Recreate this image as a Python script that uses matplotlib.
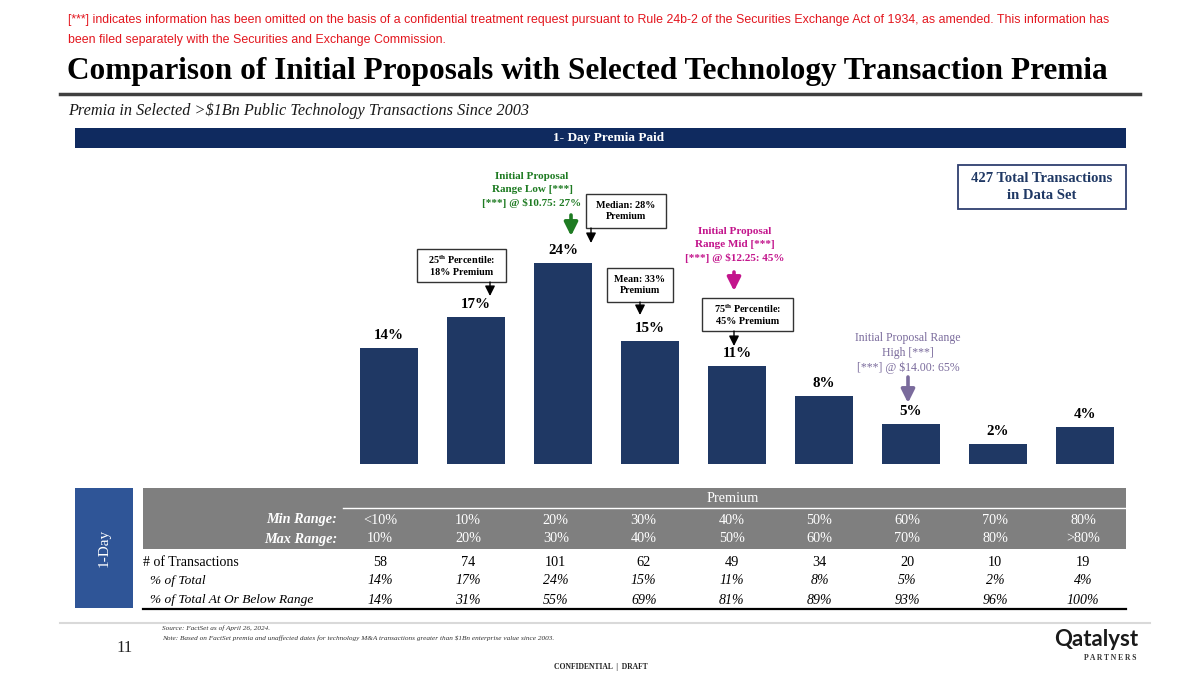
import matplotlib
matplotlib.use("Agg")
import matplotlib.pyplot as plt
from matplotlib.patches import Rectangle, FancyArrowPatch
from matplotlib.lines import Line2D

plt.rcParams['font.family'] = ['Liberation Serif', 'DejaVu Serif']
plt.rcParams['mathtext.fontset'] = 'custom'
plt.rcParams['mathtext.rm'] = 'Liberation Serif'
plt.rcParams['mathtext.bf'] = 'Liberation Serif:bold'
plt.rcParams['mathtext.it'] = 'Liberation Serif:italic'

# ---------------- data ----------------
min_range = ["<10%", "10%", "20%", "30%", "40%", "50%", "60%", "70%", "80%"]
max_range = ["10%", "20%", "30%", "40%", "50%", "60%", "70%", "80%", ">80%"]
n_transactions = [58, 74, 101, 62, 49, 34, 20, 10, 19]
pct_total = [13.6, 17.3, 23.7, 14.5, 11.5, 8.0, 4.7, 2.3, 4.4]
pct_labels = ["14%", "17%", "24%", "15%", "11%", "8%", "5%", "2%", "4%"]
pct_cum_labels = ["14%", "31%", "55%", "69%", "81%", "89%", "93%", "96%", "100%"]
total_transactions = 427

NAVY = "#1F3864"
W, H = 1200, 675
fig = plt.figure(figsize=(12, 6.75), dpi=100)


def fx(x):
    return x / W


def fy(y):
    return 1 - y / H


def ftext(x, y, s, **kw):
    kw.setdefault('va', 'center')
    return fig.text(fx(x), fy(y), s, **kw)


def frect(x0, y0, x1, y1, **kw):
    r = Rectangle((fx(x0), fy(y1)), fx(x1) - fx(x0), fy(y0) - fy(y1),
                  transform=fig.transFigure, **kw)
    fig.add_artist(r)


def fline(x0, x1, y, **kw):
    fig.add_artist(Line2D([fx(x0), fx(x1)], [fy(y), fy(y)],
                          transform=fig.transFigure, **kw))


def farrow(x, y0, y1, color, lw, hw, hl):
    a = FancyArrowPatch((fx(x), fy(y0)), (fx(x), fy(y1)),
                        transform=fig.transFigure,
                        arrowstyle=f'-|>,head_width={hw},head_length={hl}',
                        color=color, lw=lw, mutation_scale=1,
                        shrinkA=0, shrinkB=0)
    fig.add_artist(a)


# ---------------- header ----------------
RED = "#E3161E"
ftext(68, 20, "[***] indicates information has been omitted on the basis of a confidential treatment request "
      "pursuant to Rule 24b-2 of the Securities Exchange Act of 1934, as amended. This information has",
      family=['Liberation Sans'], fontsize=8.9, color=RED, ha='left')
ftext(68, 40, "been filed separately with the Securities and Exchange Commission.",
      family=['Liberation Sans'], fontsize=8.9, color=RED, ha='left')
ftext(67, 72, "Comparison of Initial Proposals with Selected Technology Transaction Premia",
      fontsize=22.5, fontweight='bold', color='black', ha='left')
fline(60, 1140, 94, color='#404040', lw=2.5)
ftext(68, 111, "Premia in Selected >\\$1Bn Public Technology Transactions Since 2003",
      fontsize=11.7, style='italic', color='#1a1a1a', ha='left')
frect(75, 128, 1126, 148, color="#0F2A5F", lw=0)
ftext(609, 138, "1- Day Premia Paid", fontsize=9.5, fontweight='bold', color='white', ha='center')

# ---------------- bars ----------------
ax = fig.add_axes([fx(336.8), fy(464), fx(1128.5) - fx(336.8), (464 - 160) / H])
xs = list(range(len(pct_total)))
ax.bar(xs, pct_total, width=0.667, color=NAVY)
ax.set_xlim(-0.6, 8.5)
ax.set_ylim(0, (464 - 160) / 8.5)
ax.axis('off')
for i, (v, lab) in enumerate(zip(pct_total, pct_labels)):
    ax.annotate(lab, (i, v), xytext=(0, 12.5), textcoords='offset pixels',
                ha='center', va='center', fontsize=10.8, fontweight='bold')

# ---------------- annotations ----------------
def box(x0, y0, x1, y1, txt, fs=7.3, ec='#333333', color='black', lw=1.0):
    frect(x0, y0, x1, y1, facecolor='white', edgecolor=ec, lw=lw)
    ftext((x0 + x1) / 2, (y0 + y1) / 2, txt, fontsize=fs, fontweight='bold',
          color=color, ha='center', linespacing=1.35)


box(417, 249, 506, 282, "25$^{\\mathbf{th}}$ Percentile:\n18% Premium")
farrow(490, 282, 296, 'black', 1.0, 3, 6)
box(586, 194, 666, 228, "Median: 28%\nPremium")
farrow(591, 228, 243, 'black', 1.0, 3, 6)
box(607, 268, 673, 302, "Mean: 33%\nPremium")
farrow(640, 302, 315, 'black', 1.0, 3, 6)
box(702, 298, 793, 331, "75$^{\\mathbf{th}}$ Percentile:\n45% Premium")
farrow(734, 331, 346, 'black', 1.0, 3, 6)
box(958, 165, 1126, 209, f"{total_transactions} Total Transactions\nin Data Set",
    fs=10.5, ec='#2F3F6F', color='#1F3864', lw=1.3)

GREEN = "#1E7B22"
ftext(532, 190, "Initial Proposal\nRange Low [***]\n[***] @ \\$10.75: 27%", fontsize=8,
      fontweight='bold', color=GREEN, ha='center', linespacing=1.55)
farrow(571, 215, 236, GREEN, 2.6, 4, 8)

MAG = "#C3158C"
ftext(735, 245, "Initial Proposal\nRange Mid [***]\n[***] @ \\$12.25: 45%", fontsize=8,
      fontweight='bold', color=MAG, ha='center', linespacing=1.55)
farrow(734, 272, 291, MAG, 2.6, 4, 8)

PURP = "#7A6B9C"
ftext(908, 353, "Initial Proposal Range\nHigh [***]\n[***] @ \\$14.00: 65%", fontsize=8.5,
      color=PURP, ha='center', linespacing=1.3)
farrow(908, 377, 403, PURP, 2.6, 4, 8)

# ---------------- table ----------------
col_x = [380 + 87.9 * i for i in range(len(min_range))]
frect(75, 488, 133, 608, color="#2F5597", lw=0)
ftext(104, 548, "1-Day", rotation=90, color='white', fontsize=11, ha='center')
frect(143, 488, 1126, 549, color="#7F7F7F", lw=0)
ftext(733, 498, "Premium", color='white', fontsize=10.3, ha='center')
fline(343, 1126, 507.5, color='white', lw=1.0)
ftext(337, 520, "Min Range:", color='white', fontsize=10.3, ha='right', style='italic', fontweight='bold')
ftext(337, 539, "Max Range:", color='white', fontsize=10.3, ha='right', style='italic', fontweight='bold')
ftext(143, 562, "# of Transactions", color='black', fontsize=10, ha='left')
ftext(150, 581, "% of Total", color='black', fontsize=9.6, ha='left', style='italic')
ftext(150, 600, "% of Total At Or Below Range", color='black', fontsize=9.6, ha='left', style='italic')
for i, cx in enumerate(col_x):
    ftext(cx, 520, min_range[i], color='white', fontsize=10.3, ha='center')
    ftext(cx, 539, max_range[i], color='white', fontsize=10.3, ha='center')
    ftext(cx, 562, str(n_transactions[i]), color='black', fontsize=10.3, ha='center')
    ftext(cx, 581, pct_labels[i], color='black', fontsize=10, ha='center', style='italic')
    ftext(cx, 600, pct_cum_labels[i], color='black', fontsize=10, ha='center', style='italic')
fline(143, 1126, 608.5, color='black', lw=1.6)

# ---------------- footer ----------------
fline(60, 1150, 623, color='#D9D9D9', lw=1.5)
ftext(125, 648, "11", fontsize=12, ha='center', color='#222222')
ftext(162, 628, "Source: FactSet as of April 26, 2024.", fontsize=5.2, style='italic', ha='left', color='#333333')
ftext(162, 638, "Note: Based on FactSet premia and unaffected dates for technology M&A transactions greater "
      "than \\$1Bn enterprise value since 2003.", fontsize=5.2, style='italic', ha='left', color='#333333')
ftext(601, 667, "CONFIDENTIAL  |  DRAFT", fontsize=5.5, fontweight='bold', ha='center', color='#222222')

# logo
ftext(1096, 639, "Qatalyst", family=['Lato', 'DejaVu Sans'], fontsize=16, fontweight='bold',
      ha='center', color='#1a1a1a')
ftext(1110, 658, "P A R T N E R S", fontsize=5.5, fontweight='bold', ha='center', color='#333333')

fig.savefig("out.png", dpi=100)
